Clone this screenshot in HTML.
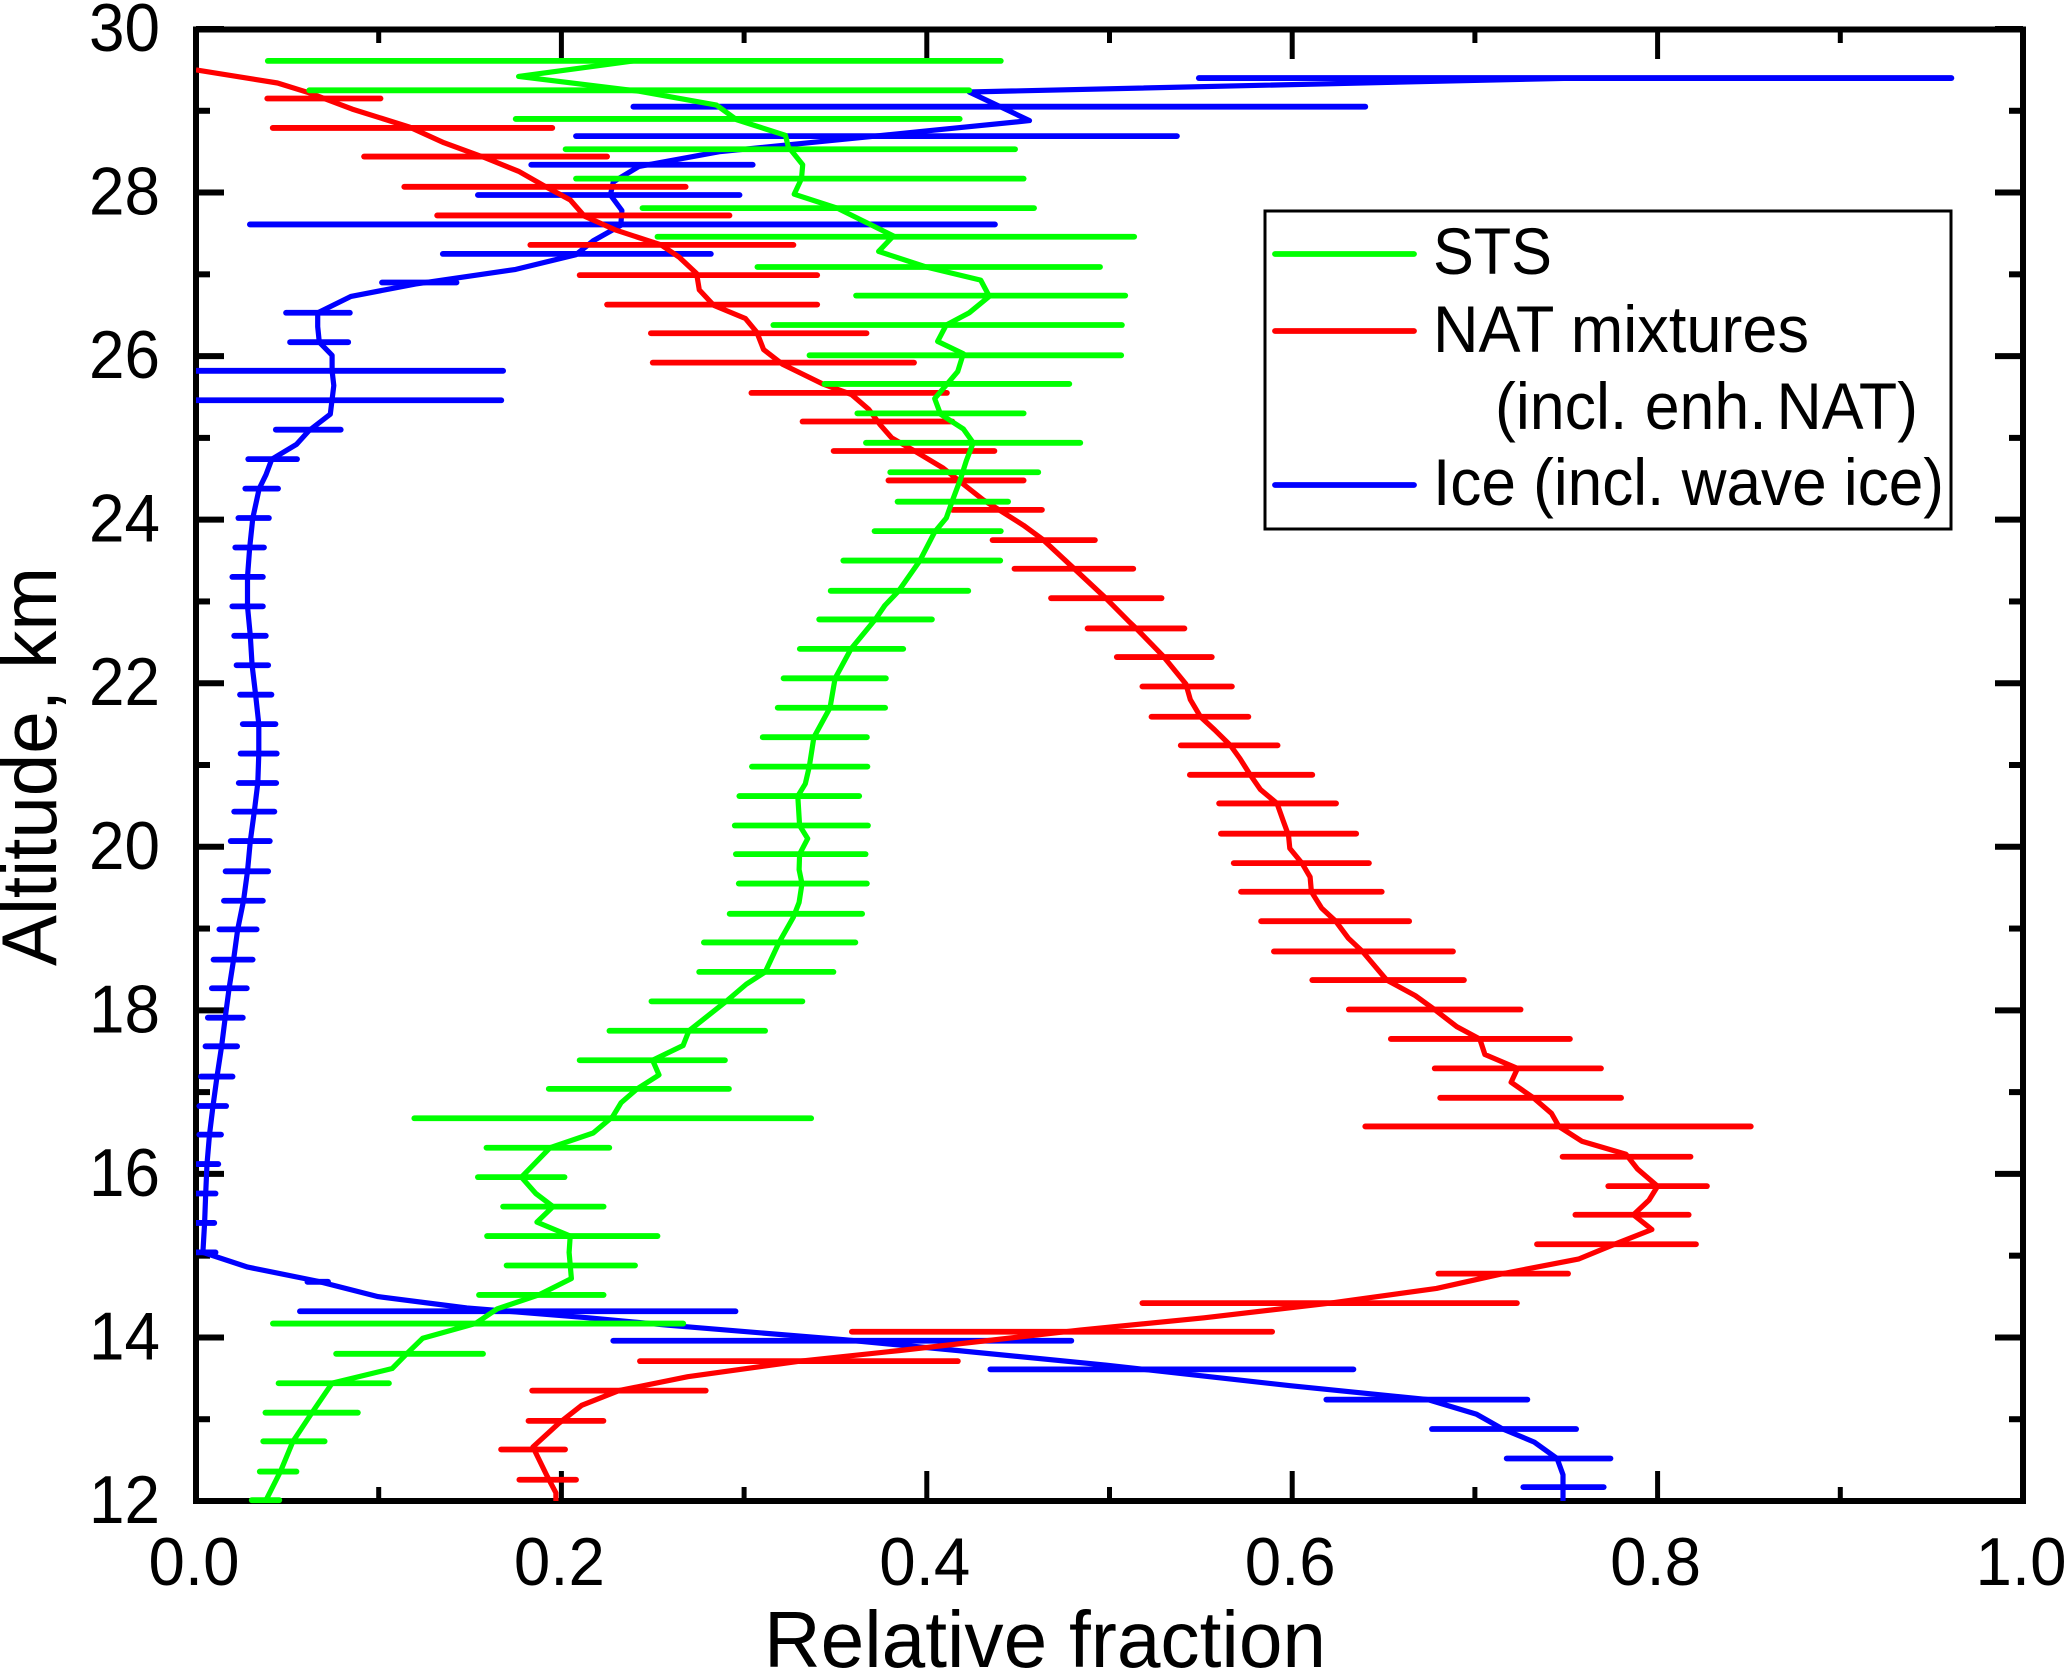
<!DOCTYPE html>
<html lang="en">
<head>
<meta charset="utf-8">
<title>Relative fraction by altitude</title>
<style>
html,body{margin:0;padding:0;background:#fff}
svg{display:block}
text{font-family:"Liberation Sans",Arial,sans-serif;fill:#000}
</style>
</head>
<body>
<svg id="chart" xmlns="http://www.w3.org/2000/svg" width="2067" height="1670" viewBox="0 0 2067 1670">
  <defs><clipPath id="plot-clip"><rect x="196" y="24" width="1830" height="1481"/></clipPath></defs>
  <rect x="196" y="29.5" width="1827" height="1471.5" fill="#fff" stroke="#000" stroke-width="6"/>
  <g id="axes"></g>
  <g id="series" clip-path="url(#plot-clip)"></g>
  <text x="764" y="1667" font-size="80" textLength="562" lengthAdjust="spacingAndGlyphs">Relative fraction</text>
  <text transform="translate(56,966) rotate(-90)" font-size="78" textLength="399" lengthAdjust="spacingAndGlyphs">Altitude, km</text>
  <g>
    <rect x="1265" y="211" width="686" height="318" fill="#fff" stroke="#000" stroke-width="3"/>
    <g>
      <line x1="1275" x2="1414" y1="254" y2="254" stroke="#00ff00" stroke-width="5.8" stroke-linecap="round"/>
      <text x="1433" y="274" font-size="66" textLength="119" lengthAdjust="spacingAndGlyphs">STS</text>
    </g>
    <g>
      <line x1="1275" x2="1414" y1="331" y2="331" stroke="#ff0000" stroke-width="5.8" stroke-linecap="round"/>
      <text x="1433" y="352" font-size="66" textLength="376" lengthAdjust="spacingAndGlyphs">NAT mixtures</text>
      <text x="1495" y="429" font-size="66" textLength="423" lengthAdjust="spacingAndGlyphs">(incl. enh.<tspan dx="-8"> NAT)</tspan></text>
    </g>
    <g>
      <line x1="1275" x2="1414" y1="485" y2="485" stroke="#0000ff" stroke-width="5.8" stroke-linecap="round"/>
      <text x="1433" y="505" font-size="66" textLength="511" lengthAdjust="spacingAndGlyphs">Ice (incl. wave ice)</text>
    </g>
  </g>
</svg>
<script>
const xTickValues = [0, 0.2, 0.4, 0.6, 0.8, 1];
const xTickLabels = ['0.0', '0.2', '0.4', '0.6', '0.8', '1.0'];
const xMinorTicks = [0.1, 0.3, 0.5, 0.7, 0.9];
const yTickValues = [12, 14, 16, 18, 20, 22, 24, 26, 28, 30];
const yTickLabels = ['12', '14', '16', '18', '20', '22', '24', '26', '28', '30'];
const yMinorTicks = [13, 15, 17, 19, 21, 23, 25, 27, 29];

const iceAlt = [29.40,29.23,28.88,28.50,28.32,28.13,27.97,27.78,27.60,27.41,27.24,27.06,26.88,26.73,26.53,26.36,26.17,26.01,25.82,25.64,25.29,25.09,24.92,24.74,24.55,24.38,24.02,23.66,23.30,22.94,22.58,22.22,21.86,21.50,21.14,20.78,20.43,20.07,19.70,19.34,18.99,18.62,18.27,17.91,17.56,17.19,16.83,16.48,16.12,15.76,15.40,15.04,14.86,14.69,14.50,14.36,14.24,14.15,13.97,13.84,13.66,13.41,13.24,13.06,12.88,12.72,12.52,12.32,12.0];
const iceFraction = [0.755,0.4232,0.4562,0.2865,0.2425,0.2284,0.2268,0.2331,0.2325,0.2174,0.208,0.175,0.12,0.0848,0.0666,0.0666,0.0675,0.0745,0.0745,0.0754,0.0735,0.0619,0.055,0.0415,0.0383,0.0346,0.0311,0.0294,0.0282,0.0282,0.0297,0.0307,0.0326,0.0344,0.0344,0.0338,0.0319,0.0297,0.0282,0.026,0.0228,0.0206,0.0181,0.016,0.014,0.0115,0.0093,0.0074,0.006,0.0053,0.0047,0.0038,0.0283,0.066,0.0996,0.1483,0.2149,0.2582,0.3556,0.4167,0.4984,0.5989,0.6743,0.701,0.7152,0.7325,0.745,0.7482,0.7482];
const iceBarAlt = [29.40,29.05,28.69,28.34,27.97,27.61,27.25,26.90,26.53,26.17,25.82,25.46,25.10,24.74,24.38,24.02,23.66,23.30,22.94,22.58,22.22,21.86,21.50,21.14,20.78,20.43,20.07,19.70,19.34,18.99,18.62,18.27,17.91,17.56,17.19,16.83,16.48,16.12,15.76,15.40,15.04,14.68,14.32,13.96,13.61,13.24,12.88,12.52,12.17];
const iceBarLow = [0.5489,0.2394,0.208,0.1835,0.1543,0.0295,0.1351,0.1018,0.0493,0.0515,0,0,0.0437,0.0286,0.027,0.0232,0.0215,0.0199,0.0199,0.0209,0.0222,0.0241,0.0256,0.0244,0.0234,0.0209,0.019,0.0162,0.0153,0.0128,0.0096,0.0087,0.0065,0.0052,0.0027,0.0018,0.0018,0.0006,0,0,0,0.061,0.0569,0.2284,0.4348,0.6187,0.6765,0.7174,0.7265];
const iceBarHigh = [0.9608,0.64,0.5369,0.3047,0.2975,0.4373,0.2818,0.1426,0.0842,0.0833,0.1681,0.1671,0.0792,0.0553,0.0449,0.0399,0.0372,0.0366,0.0366,0.0382,0.0395,0.0413,0.0435,0.0442,0.0439,0.0429,0.0404,0.0395,0.0366,0.0332,0.031,0.0278,0.0256,0.0225,0.02,0.0165,0.0137,0.0122,0.0107,0.01,0.0107,0.0723,0.2953,0.4791,0.6335,0.7287,0.7554,0.7742,0.7705];

const natAlt = [29.50,29.34,29.22,29.02,28.80,28.61,28.43,28.26,28.06,27.91,27.71,27.54,27.36,27.21,27.01,26.81,26.62,26.46,26.29,26.08,25.90,25.66,25.53,25.35,25.16,25.00,24.84,24.63,24.46,24.24,23.93,23.76,23.40,23.04,22.76,22.67,22.34,21.99,21.80,21.59,21.43,21.24,21.08,20.88,20.70,20.53,20.31,20.14,19.98,19.80,19.63,19.45,19.25,19.09,18.88,18.72,18.37,18.18,18.01,17.80,17.65,17.46,17.29,17.12,16.93,16.74,16.58,16.40,16.24,16.06,15.85,15.68,15.50,15.32,15.14,14.96,14.78,14.60,14.42,14.24,14.09,13.84,13.71,13.52,13.35,13.17,12.95,12.66,12.30,12.10,12.0];
const natFraction = [0,0.0446,0.0619,0.0855,0.1169,0.1357,0.1577,0.1766,0.1923,0.2048,0.2127,0.23,0.2545,0.2645,0.274,0.2755,0.2834,0.3007,0.307,0.3107,0.3211,0.343,0.3588,0.3682,0.3745,0.3808,0.3933,0.409,0.4185,0.431,0.453,0.4634,0.4807,0.498,0.5104,0.5146,0.529,0.5418,0.5442,0.5498,0.5575,0.5662,0.5714,0.577,0.5826,0.5917,0.5952,0.598,0.5987,0.6053,0.6098,0.6105,0.6161,0.6238,0.6308,0.6385,0.6517,0.6674,0.6779,0.6901,0.7027,0.7055,0.7233,0.7198,0.732,0.7419,0.746,0.7585,0.7827,0.789,0.8,0.7953,0.7868,0.7969,0.7765,0.757,0.7152,0.679,0.621,0.5518,0.4838,0.3853,0.3305,0.2692,0.2315,0.2111,0.1986,0.1844,0.1923,0.197,0.197];
const natBarAlt = [29.15,28.79,28.44,28.07,27.72,27.36,26.99,26.63,26.28,25.92,25.55,25.20,24.84,24.48,24.12,23.75,23.40,23.04,22.67,22.32,21.96,21.59,21.24,20.88,20.53,20.16,19.80,19.45,19.09,18.72,18.37,18.01,17.65,17.29,16.93,16.58,16.21,15.85,15.50,15.14,14.78,14.42,14.07,13.71,13.35,12.98,12.63,12.26];
const natBarLow = [0.039,0.042,0.092,0.114,0.132,0.183,0.21,0.225,0.249,0.25,0.304,0.332,0.349,0.379,0.414,0.436,0.448,0.468,0.488,0.504,0.518,0.523,0.539,0.544,0.56,0.561,0.568,0.572,0.583,0.59,0.611,0.631,0.654,0.678,0.681,0.64,0.748,0.773,0.755,0.734,0.68,0.518,0.359,0.243,0.184,0.182,0.167,0.177];
const natBarHigh = [0.101,0.195,0.225,0.268,0.292,0.327,0.34,0.34,0.367,0.393,0.411,0.414,0.437,0.453,0.463,0.492,0.513,0.5285,0.541,0.556,0.567,0.576,0.592,0.611,0.624,0.635,0.642,0.649,0.664,0.688,0.694,0.725,0.752,0.769,0.78,0.851,0.818,0.827,0.817,0.821,0.751,0.723,0.589,0.417,0.279,0.223,0.202,0.208];

const stsAlt = [29.61,29.42,29.24,29.07,28.89,28.70,28.56,28.34,28.17,27.98,27.81,27.47,27.28,27.09,26.93,26.73,26.53,26.38,26.18,26.03,25.81,25.48,25.29,25.11,24.94,24.72,24.50,24.22,24.02,23.85,23.50,23.13,22.95,22.78,22.42,22.06,21.70,21.34,20.98,20.77,20.62,20.26,20.10,19.91,19.72,19.55,19.32,19.14,18.83,18.47,18.32,18.11,17.75,17.57,17.39,17.21,17.04,16.87,16.70,16.50,16.32,15.96,15.76,15.60,15.41,15.24,15.04,14.72,14.52,14.35,14.17,13.99,13.80,13.62,13.44,13.08,12.73,12.36,12.01];
const stsFraction = [0.2394,0.1766,0.2425,0.2849,0.296,0.3226,0.3242,0.3321,0.3314,0.3274,0.3509,0.3817,0.3736,0.3996,0.4295,0.4342,0.4232,0.4106,0.4059,0.42,0.4169,0.4043,0.4075,0.42,0.4254,0.4216,0.4185,0.4138,0.4107,0.4043,0.3962,0.3847,0.377,0.3718,0.3585,0.3498,0.347,0.3382,0.3357,0.3335,0.3294,0.3304,0.3348,0.3304,0.3301,0.3317,0.3301,0.327,0.3191,0.3116,0.3012,0.2902,0.2698,0.2666,0.2499,0.2534,0.2415,0.2327,0.2281,0.2174,0.1938,0.1781,0.186,0.1954,0.1866,0.2048,0.2042,0.2055,0.1876,0.1649,0.153,0.1241,0.1153,0.1074,0.0745,0.0635,0.0531,0.0462,0.0383];
const stsBarAlt = [29.61,29.25,28.90,28.53,28.17,27.81,27.46,27.09,26.74,26.38,26.01,25.66,25.30,24.94,24.58,24.22,23.86,23.50,23.13,22.78,22.42,22.06,21.70,21.34,20.98,20.62,20.26,19.91,19.55,19.18,18.83,18.47,18.11,17.75,17.39,17.04,16.68,16.32,15.96,15.60,15.24,14.88,14.52,14.17,13.80,13.44,13.08,12.73,12.36,12.01];
const stsBarLow = [0.0393,0.062,0.175,0.2023,0.208,0.2444,0.2526,0.3073,0.3613,0.316,0.3358,0.344,0.362,0.3667,0.38,0.384,0.3714,0.3543,0.3474,0.3411,0.3305,0.3216,0.3184,0.3102,0.3043,0.2974,0.2949,0.2955,0.2971,0.2921,0.278,0.2754,0.2493,0.2263,0.21,0.1931,0.1195,0.159,0.1543,0.1681,0.1593,0.17,0.1549,0.0421,0.0767,0.0452,0.038,0.0368,0.0349,0.0305];
const stsBarHigh = [0.4405,0.4232,0.418,0.4483,0.453,0.4587,0.5135,0.4948,0.5086,0.5068,0.5064,0.478,0.453,0.484,0.461,0.4445,0.4405,0.4402,0.4227,0.4028,0.3871,0.3776,0.3772,0.3672,0.3675,0.363,0.3678,0.3665,0.3672,0.3646,0.3609,0.3489,0.3319,0.3115,0.2895,0.2917,0.3367,0.2262,0.2017,0.2231,0.2526,0.2403,0.2231,0.2667,0.1571,0.1056,0.0886,0.0704,0.055,0.0456];

const SVG_NS = 'http://www.w3.org/2000/svg';
const PLOT = { left: 196, right: 2023, top: 29, bottom: 1501 };
function xScale(v) { return PLOT.left + v * (PLOT.right - PLOT.left); }
function yScale(a) { return PLOT.bottom - (a - 12) / 18 * (PLOT.bottom - PLOT.top); }
function makeLine(x1, y1, x2, y2, stroke, width, cap) {
  const el = document.createElementNS(SVG_NS, 'line');
  el.setAttribute('x1', x1);
  el.setAttribute('y1', y1);
  el.setAttribute('x2', x2);
  el.setAttribute('y2', y2);
  el.setAttribute('stroke', stroke);
  el.setAttribute('stroke-width', width);
  if (cap) el.setAttribute('stroke-linecap', cap);
  return el;
}
const axes = document.getElementById('axes');
const seriesLayer = document.getElementById('series');

function drawXTick(v, len, width) {
  const x = xScale(v);
  const bottom = makeLine(x, PLOT.bottom, x, PLOT.bottom - len, '#000', width);
  
  
  axes.appendChild(bottom);
  const top = makeLine(x, PLOT.top, x, PLOT.top + len, '#000', width);
  
  
  axes.appendChild(top);
}
function drawYTick(a, len, width) {
  const y = yScale(a);
  const left = makeLine(PLOT.left, y, PLOT.left + len, y, '#000', width);
  
  
  axes.appendChild(left);
  const right = makeLine(PLOT.right, y, PLOT.right - len, y, '#000', width);
  
  
  axes.appendChild(right);
}
xTickValues.forEach(function (v, i) {
  drawXTick(v, 30, 5);
  const t = document.createElementNS(SVG_NS, 'text');
  t.setAttribute('x', xScale(v) - 2);
  t.setAttribute('y', 1585);
  t.setAttribute('font-size', 68);
  t.setAttribute('text-anchor', 'middle');
  t.setAttribute('textLength', 91);
  t.setAttribute('lengthAdjust', 'spacingAndGlyphs');
  
  
  t.textContent = xTickLabels[i];
  axes.appendChild(t);
});
xMinorTicks.forEach(function (v) { drawXTick(v, 14, 5); });
yTickValues.forEach(function (a, i) {
  drawYTick(a, 28, 6);
  const t = document.createElementNS(SVG_NS, 'text');
  t.setAttribute('x', 160);
  t.setAttribute('y', yScale(a) + 22);
  t.setAttribute('font-size', 68);
  t.setAttribute('text-anchor', 'end');
  t.setAttribute('textLength', 71);
  t.setAttribute('lengthAdjust', 'spacingAndGlyphs');
  
  
  t.textContent = yTickLabels[i];
  axes.appendChild(t);
});
yMinorTicks.forEach(function (a) { drawYTick(a, 14, 6); });

function drawSeries(key, color, alts, fractions, barAlts, lows, highs) {
  const group = document.createElementNS(SVG_NS, 'g');
  
  
  barAlts.forEach(function (a, i) {
    const y = yScale(a);
    const bar = makeLine(xScale(lows[i]), y, xScale(highs[i]), y, color, 5.8, 'round');
    
    
    group.appendChild(bar);
  });
  const path = document.createElementNS(SVG_NS, 'polyline');
  path.setAttribute('points', alts.map(function (a, i) {
    return xScale(fractions[i]).toFixed(1) + ',' + yScale(a).toFixed(1);
  }).join(' '));
  path.setAttribute('fill', 'none');
  path.setAttribute('stroke', color);
  path.setAttribute('stroke-width', 5.2);
  path.setAttribute('stroke-linejoin', 'round');
  
  
  group.appendChild(path);
  seriesLayer.appendChild(group);
}
drawSeries('ice', '#0000ff', iceAlt, iceFraction, iceBarAlt, iceBarLow, iceBarHigh);
drawSeries('nat', '#ff0000', natAlt, natFraction, natBarAlt, natBarLow, natBarHigh);
drawSeries('sts', '#00ff00', stsAlt, stsFraction, stsBarAlt, stsBarLow, stsBarHigh);
</script>
</body>
</html>
